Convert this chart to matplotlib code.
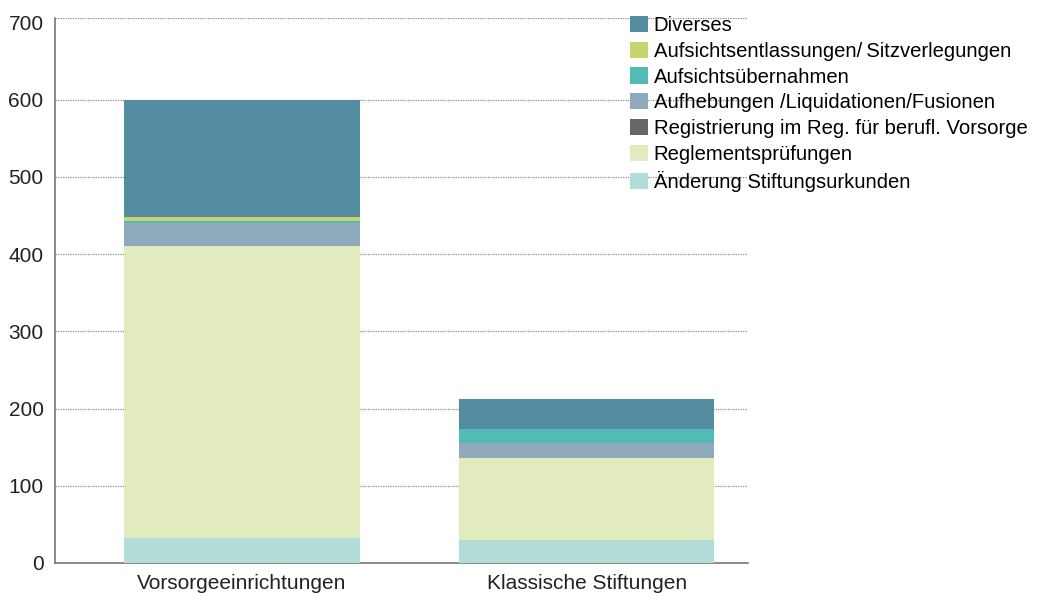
import numpy as np
import matplotlib.pyplot as plt

plt.rcParams['font.family'] = ['Liberation Sans', 'DejaVu Sans']

# Daten (von unten nach oben gestapelt)
kategorien = ['Vorsorgeeinrichtungen', 'Klassische Stiftungen']
serien = ['Änderung Stiftungsurkunden', 'Reglementsprüfungen',
          'Registrierung im Reg. für berufl. Vorsorge',
          'Aufhebungen /Liquidationen/Fusionen', 'Aufsichtsübernahmen',
          'Aufsichtsentlassungen/\u2009Sitzverlegungen', 'Diverses']
aenderung = [32, 30]
reglement = [378, 106]
registrierung = [0, 0]
aufhebungen = [30, 19]
uebernahmen = [3, 18]
entlassungen = [5, 1]
diverses = [152, 39]
y_ticks = [0, 100, 200, 300, 400, 500, 600, 700]

werte = [aenderung, reglement, registrierung, aufhebungen, uebernahmen, entlassungen, diverses]
farben = ['#B2DCD7', '#E2EBBE', '#666666', '#8FAABB', '#52BBB6', '#C8D46E', '#548CA2']

fig = plt.figure(figsize=(10.52, 5.97), dpi=100)
ax = fig.add_axes([0.052, 0.057, 0.659, 0.913])

x = np.arange(len(kategorien))
breite = [0.685, 0.74]
unten = np.zeros(len(kategorien))
handles = []
for name, w, c in zip(serien, werte, farben):
    b = ax.bar(x, w, bottom=unten, width=breite, color=c, label=name, zorder=3)
    handles.append(b)
    unten += np.array(w)

ax.set_xlim(-0.542, 1.467)
ax.set_ylim(0, 706)
ax.set_yticks(y_ticks)
ax.set_xticks(x)
ax.set_xticklabels(kategorien)
ax.tick_params(axis='both', length=0, labelsize=15, colors='#222222')
ax.tick_params(axis='x', pad=8)
ax.tick_params(axis='y', pad=8)

# gepunktete Hilfslinien
ax.hlines(y_ticks[1:-1], -0.542, 1.467, linestyles=(0, (1, 1)), colors='#888888',
          linewidth=0.9, zorder=0)
ax.axhline(706, linestyle=(0, (1, 1)), color='#888888', linewidth=0.9, zorder=0)

for s in ['top', 'right']:
    ax.spines[s].set_visible(False)
ax.spines['left'].set_color('#777777')
ax.spines['bottom'].set_color('#777777')
ax.spines['left'].set_linewidth(1.2)
ax.spines['bottom'].set_linewidth(1.2)

fig.legend(handles[::-1], serien[::-1], loc='upper left', bbox_to_anchor=(0.5915, 0.987),
           frameon=False, fontsize=14.6, handlelength=0.85, handleheight=0.85,
           handletextpad=0.3, labelspacing=0.33, borderaxespad=0)

fig.savefig('out.png', dpi=100)
